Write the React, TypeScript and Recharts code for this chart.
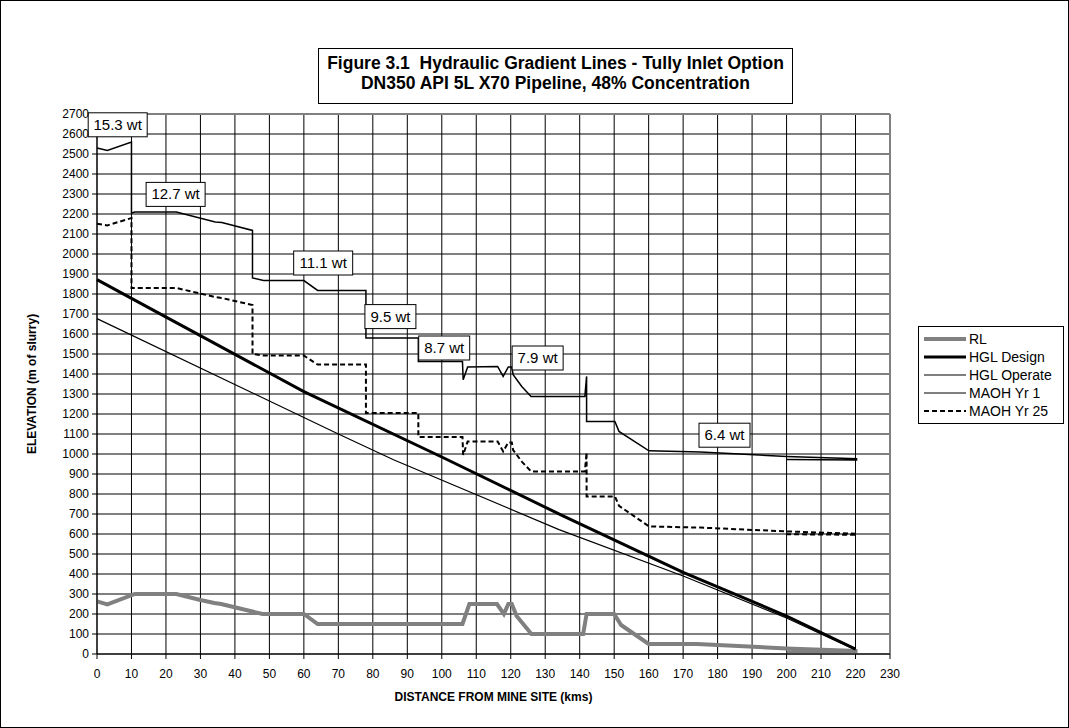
import {
    LineChart,
    Line,
    XAxis,
    YAxis,
    CartesianGrid,
    Legend,
    ReferenceDot,
    ReferenceLine,
} from 'recharts';

// distance (km) / elevation (m) pairs
const rlKm = [0, 3, 11, 23, 30, 34, 36, 48, 60, 64, 106, 108, 116, 118, 119.3, 120.3, 121.7, 126, 141, 142, 150, 152, 160, 174, 200, 220, 220, 200];
const rlElev = [263, 248, 300, 300, 270, 255, 250, 200, 200, 150, 150, 250, 250, 200, 250, 250, 190, 100, 100, 200, 200, 145, 50, 50, 28, 15, 8, 12];

const designKm = [0, 10, 60, 100, 135, 170, 200, 220];
const designElev = [1872, 1778, 1312, 985, 692, 408, 190, 25];

const operateKm = [0, 70, 86, 134, 170, 200, 220];
const operateElev = [1677, 1100, 971, 622, 390, 180, 20];

const maohKm = [0, 3, 10, 10, 11, 23, 34.3, 36.2, 45.1, 45.1, 48.3, 60, 64, 78, 78, 93.2, 93.2, 106, 106.2, 107.5, 116.2, 117.8, 119.3, 120.3, 120.7, 123.2, 125.9, 141.5, 142, 142, 150.2, 151.4, 160.1, 175, 200, 220.3, 220.3, 200];
const maoh1Elev = [2530, 2518, 2560, 2205, 2210, 2210, 2160, 2157, 2118, 1880, 1867, 1867, 1818, 1818, 1580, 1580, 1462, 1462, 1371, 1435, 1438, 1388, 1435, 1435, 1397, 1338, 1288, 1288, 1388, 1163, 1163, 1113, 1016, 1010, 988, 976, 970, 973];
const maoh25Elev = [2151, 2143, 2180, 1830, 1830, 1830, 1785, 1780, 1745, 1500, 1492, 1492, 1447, 1447, 1205, 1205, 1085, 1085, 995, 1063, 1063, 1013, 1058, 1058, 1020, 962, 913, 913, 1008, 788, 788, 741, 638, 632, 613, 601, 596, 599];

const xTicks = Array.from({ length: 24 }, (_, i) => i * 10);
const yTicks = Array.from({ length: 28 }, (_, i) => i * 100);

// wall thickness callouts
const noteText = ['15.3 wt', '12.7 wt', '11.1 wt', '9.5 wt', '8.7 wt', '7.9 wt', '6.4 wt'];
const noteKm = [6.0, 22.8, 65.6, 85.1, 100.7, 127.8, 182.0];
const noteElev = [2646, 2298, 1955, 1687, 1530, 1480, 1094];

const toPoints = (km: number[], elev: number[]) => km.map((k, i) => ({ km: k, elev: elev[i] }));

const rlData = toPoints(rlKm, rlElev);
const designData = toPoints(designKm, designElev);
const operateData = toPoints(operateKm, operateElev);
const maoh1Data = toPoints(maohKm, maoh1Elev);
const maoh25Data = toPoints(maohKm, maoh25Elev);

const FONT = 'Arial, "Liberation Sans", sans-serif';

const legendItems = [
    { name: 'RL', color: '#808080', width: 4, dash: undefined },
    { name: 'HGL Design', color: '#000', width: 3, dash: undefined },
    { name: 'HGL Operate', color: '#000', width: 1.2, dash: undefined },
    { name: 'MAOH Yr 1', color: '#000', width: 1.2, dash: undefined },
    { name: 'MAOH Yr 25', color: '#000', width: 2, dash: '5 3' },
];

function LegendBox() {
    return (
        <div style={{ border: '1px solid #000', background: '#fff', padding: '3px 4px', fontFamily: FONT, fontSize: 14 }}>
            {legendItems.map((it) => (
                <div key={it.name} style={{ display: 'flex', alignItems: 'center', height: 18 }}>
                    <svg width={44} height={10}>
                        <line x1={1} y1={5} x2={43} y2={5} stroke={it.color} strokeWidth={it.width} strokeDasharray={it.dash} />
                    </svg>
                    <span style={{ marginLeft: 2 }}>{it.name}</span>
                </div>
            ))}
        </div>
    );
}

function noteShape(text: string) {
    return (props: any) => {
        const w = text.length * 8 + 3;
        const h = 24;
        return (
            <g>
                <rect x={props.cx - w / 2} y={props.cy - h / 2} width={w} height={h} fill="#fff" stroke="#000" strokeWidth={1} />
                <text x={props.cx} y={props.cy + 5} textAnchor="middle" fontSize={15} fontFamily={FONT} fill="#000">
                    {text}
                </text>
            </g>
        );
    };
}

export default function App() {
    return (
        <div style={{ position: 'absolute', left: 0, top: 0, width: 1069, height: 728, background: '#fff', fontFamily: FONT }}>
            <LineChart width={1069} height={728} margin={{ top: 114, right: 179, bottom: 44, left: 37 }}>
                <CartesianGrid stroke="#000" strokeWidth={1} />
                <XAxis
                    dataKey="km"
                    type="number"
                    domain={[0, 230]}
                    ticks={xTicks}
                    interval={0}
                    height={30}
                    stroke="#000"
                    tickSize={5}
                    tickMargin={10}
                    tick={{ fill: '#000', fontSize: 12, fontFamily: FONT }}
                    label={{
                        content: ({ viewBox }: any) => (
                            <text x={viewBox.x + viewBox.width / 2} y={viewBox.y + 47} textAnchor="middle" fontWeight="bold" fontSize={12} fontFamily={FONT} fill="#000">
                                DISTANCE FROM MINE SITE (kms)
                            </text>
                        ),
                    }}
                />
                <YAxis
                    type="number"
                    domain={[0, 2700]}
                    ticks={yTicks}
                    interval={0}
                    width={60}
                    stroke="#000"
                    tickSize={5}
                    tickMargin={3}
                    tick={{ fill: '#000', fontSize: 12, fontFamily: FONT }}
                    label={{
                        content: ({ viewBox }: any) => {
                            const x = viewBox.x - 4;
                            const y = viewBox.y + viewBox.height / 2;
                            return (
                                <text x={x} y={y} transform={`rotate(-90 ${x} ${y})`} textAnchor="middle" dominantBaseline="middle" fontWeight="bold" fontSize={12} fontFamily={FONT} fill="#000">
                                    ELEVATION (m of slurry)
                                </text>
                            );
                        },
                    }}
                />
                <ReferenceLine y={2700} stroke="#808080" strokeWidth={2} />
                <ReferenceLine x={230} stroke="#808080" strokeWidth={2} />
                <Line data={rlData} dataKey="elev" name="RL" type="linear" stroke="#808080" strokeWidth={4} dot={false} activeDot={false} isAnimationActive={false} />
                <Line data={designData} dataKey="elev" name="HGL Design" type="linear" stroke="#000" strokeWidth={3} dot={false} activeDot={false} isAnimationActive={false} />
                <Line data={operateData} dataKey="elev" name="HGL Operate" type="linear" stroke="#000" strokeWidth={1.2} dot={false} activeDot={false} isAnimationActive={false} />
                <Line data={maoh1Data} dataKey="elev" name="MAOH Yr 1" type="linear" stroke="#000" strokeWidth={1.5} dot={false} activeDot={false} isAnimationActive={false} />
                <Line data={maoh25Data} dataKey="elev" name="MAOH Yr 25" type="linear" stroke="#000" strokeWidth={2} strokeDasharray="5 3" dot={false} activeDot={false} isAnimationActive={false} />
                {noteText.map((t, i) => (
                    <ReferenceDot key={t} x={noteKm[i]} y={noteElev[i]} r={0} ifOverflow="visible" shape={noteShape(t)} />
                ))}
                <Legend
                    layout="vertical"
                    align="center"
                    verticalAlign="middle"
                    content={() => <LegendBox />}
                    wrapperStyle={{ left: 918, top: 326, width: 146, height: 'auto' }}
                />
            </LineChart>
            <div
                style={{
                    position: 'absolute',
                    left: 318,
                    top: 48,
                    width: 475,
                    height: 56,
                    boxSizing: 'border-box',
                    border: '1px solid #000',
                    background: '#fff',
                    paddingTop: 4,
                    textAlign: 'center',
                    fontWeight: 'bold',
                    fontSize: 17.5,
                    lineHeight: '20px',
                    whiteSpace: 'nowrap',
                }}
            >
                <div>Figure 3.1&nbsp; Hydraulic Gradient Lines - Tully Inlet Option</div>
                <div>DN350 API 5L X70 Pipeline, 48% Concentration</div>
            </div>
            <div style={{ position: 'absolute', left: 0, top: 0, width: 1069, height: 728, boxSizing: 'border-box', border: '1px solid #000', pointerEvents: 'none' }} />
        </div>
    );
}
